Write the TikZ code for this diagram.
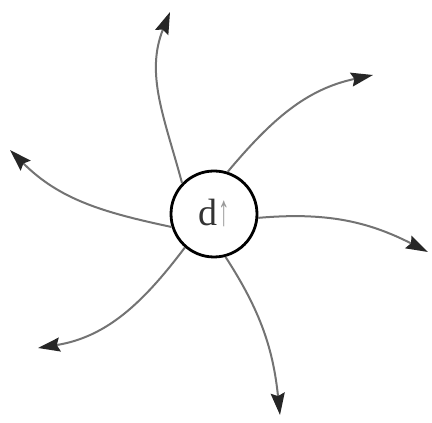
\documentclass[tikz,border=0pt]{standalone}
\usepackage{fontspec}
\setmainfont{Liberation Serif}
\usetikzlibrary{arrows.meta}
\begin{document}
\begin{tikzpicture}[x=1pt,y=1pt,
  arm/.style={draw=black!55, line width=2pt,
    -{Stealth[length=22pt,width=14pt,inset=3pt,fill=black!85,color=black!85]}},
  core/.style={circle, draw=black, line width=2.8pt, minimum size=86pt, inner sep=0pt, fill=white}]
\useasboundingbox (0,0) rectangle (432,423);
\node[core] (c) at (214,209) {};
\node (lbl) at (214,210) {\fontsize{38}{40}\selectfont\textcolor{black!80}{d}\kern0.5pt\textcolor{black!40}{\scalebox{0.6}[1.15]{↑}}};
\coordinate (t1) at (170,411);
\coordinate (t2) at (373,348);
\coordinate (t3) at (428,171);
\coordinate (t4) at (280,8);
\coordinate (t5) at (38,75);
\coordinate (t6) at (10,273);
\draw[arm] (c.136) to[out=105,in=-112] (t1);
\draw[arm] (c.72) to[out=50,in=192] (t2);
\draw[arm] (c.-5) to[out=5,in=153] (t3);
\draw[arm] (c.-75) to[out=-57,in=96] (t4);
\draw[arm] (c.229) to[out=233,in=9] (t5);
\draw[arm] (c.197) to[out=168,in=-45] (t6);
\end{tikzpicture}
\end{document}
